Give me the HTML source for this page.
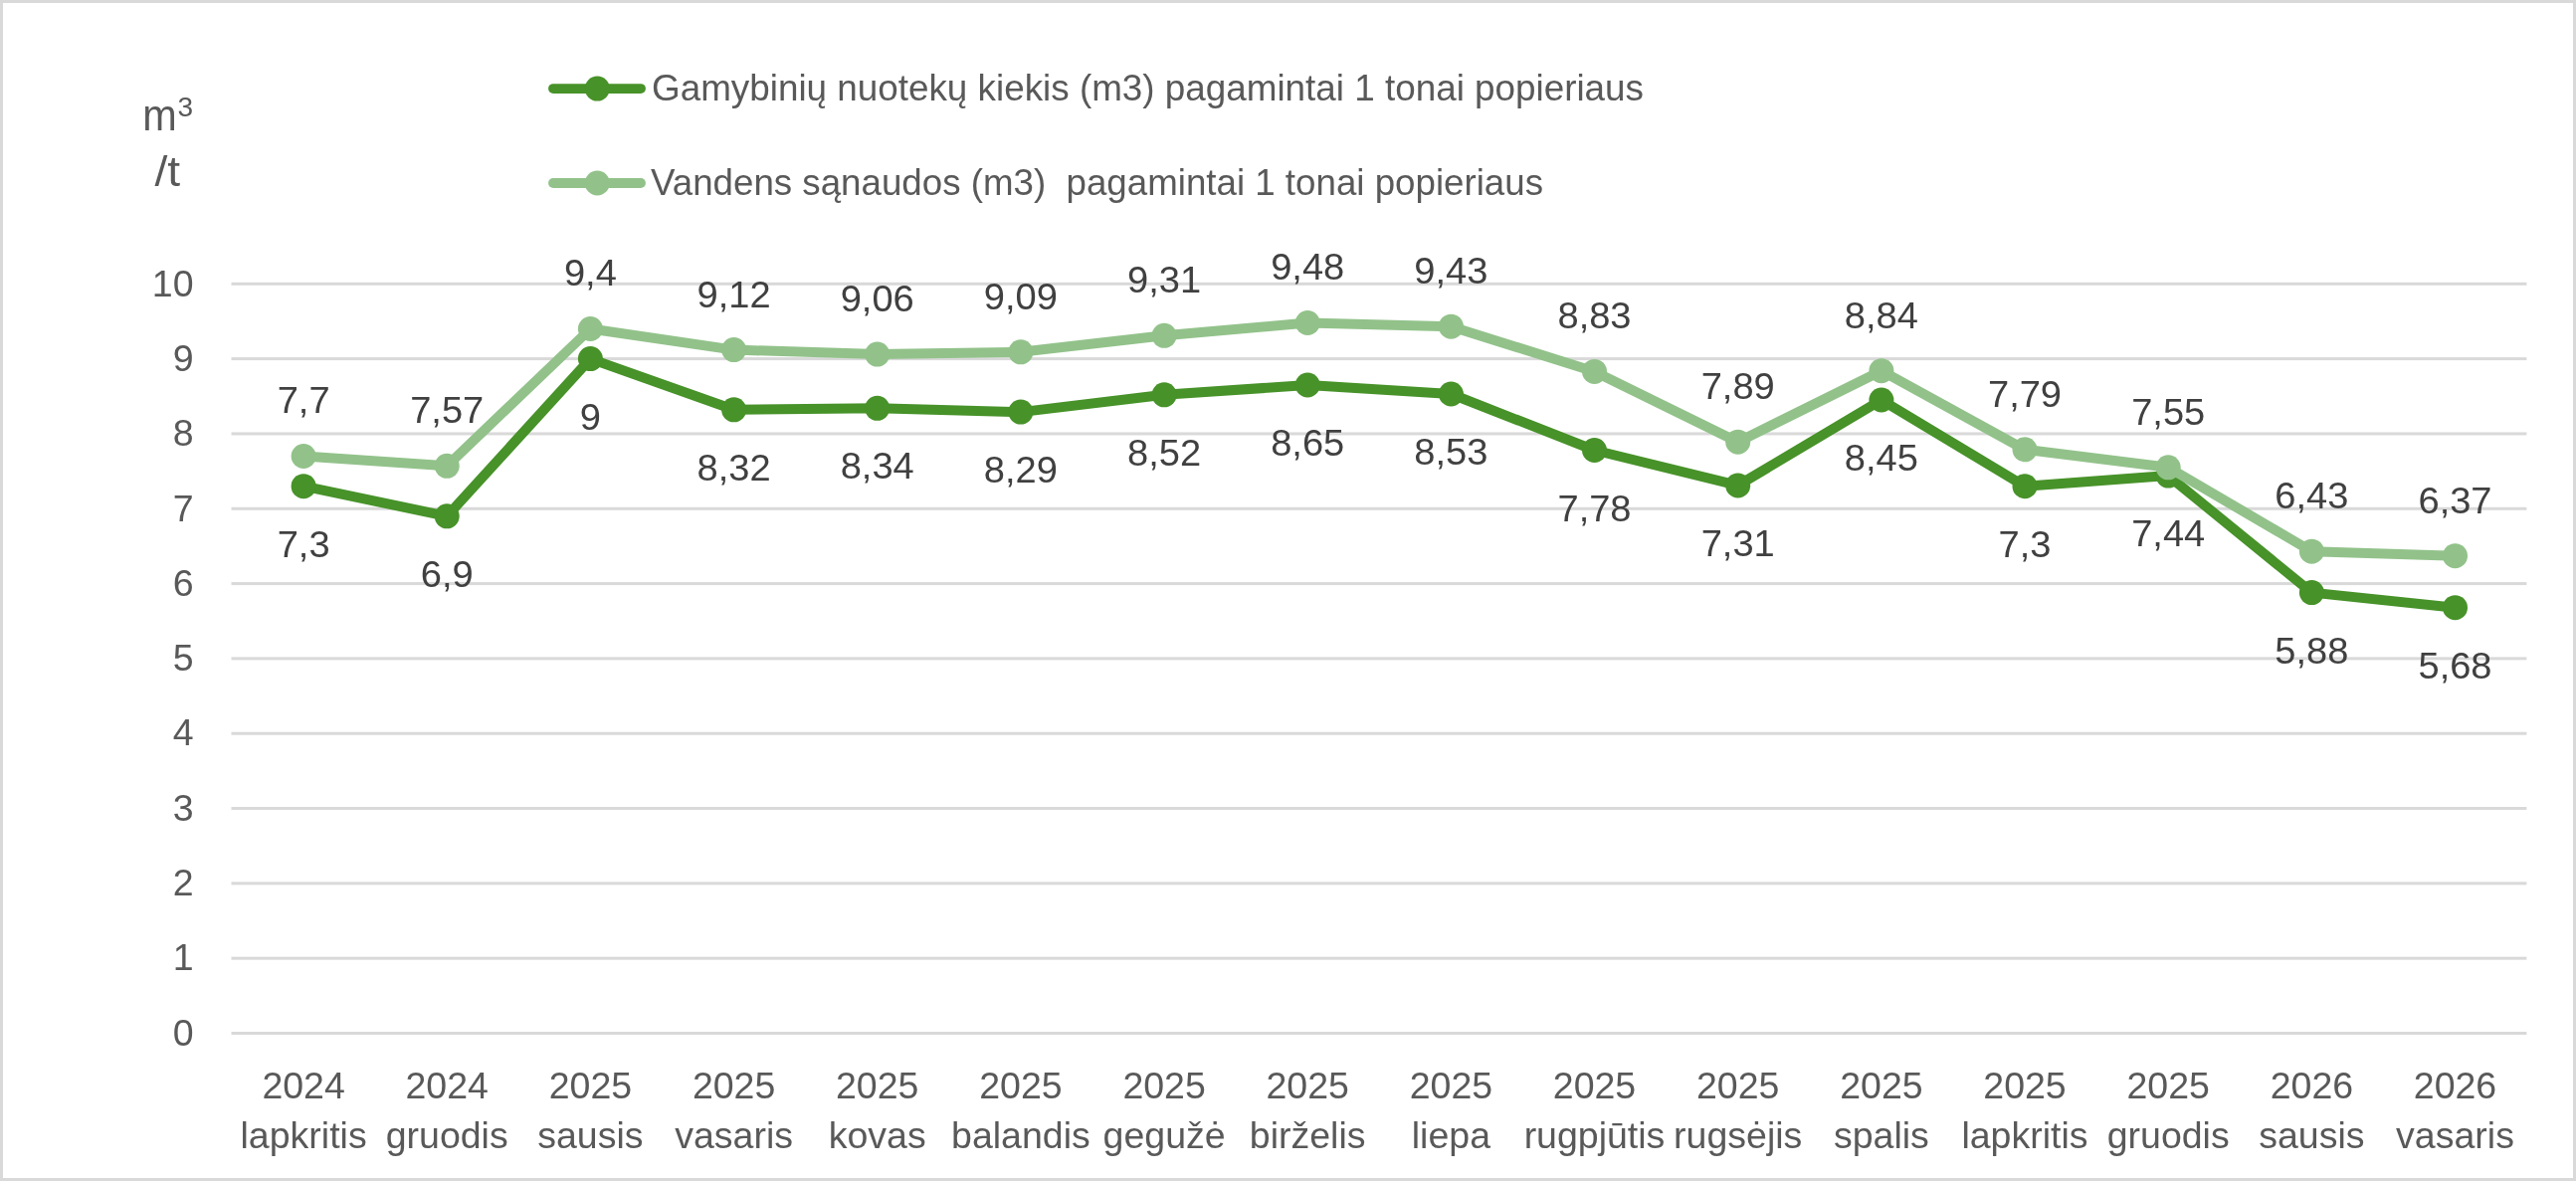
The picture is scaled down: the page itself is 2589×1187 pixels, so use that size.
<!DOCTYPE html>
<html><head><meta charset="utf-8"><style>
html,body{margin:0;padding:0;background:#fff;width:2589px;height:1187px;overflow:hidden}
svg{display:block;will-change:transform}
text{font-family:"Liberation Sans", sans-serif}
</style></head><body>
<svg width="2589" height="1187" viewBox="0 0 2589 1187"><rect x="0" y="0" width="2589" height="1187" fill="#D9D9D9"/><rect x="3" y="3" width="2583" height="1181" fill="#FFFFFF"/><rect x="232.5" y="1037.00" width="2306.9" height="3" fill="#D9D9D9"/><rect x="232.5" y="961.68" width="2306.9" height="3" fill="#D9D9D9"/><rect x="232.5" y="886.36" width="2306.9" height="3" fill="#D9D9D9"/><rect x="232.5" y="811.04" width="2306.9" height="3" fill="#D9D9D9"/><rect x="232.5" y="735.72" width="2306.9" height="3" fill="#D9D9D9"/><rect x="232.5" y="660.40" width="2306.9" height="3" fill="#D9D9D9"/><rect x="232.5" y="585.08" width="2306.9" height="3" fill="#D9D9D9"/><rect x="232.5" y="509.76" width="2306.9" height="3" fill="#D9D9D9"/><rect x="232.5" y="434.44" width="2306.9" height="3" fill="#D9D9D9"/><rect x="232.5" y="359.12" width="2306.9" height="3" fill="#D9D9D9"/><rect x="232.5" y="283.80" width="2306.9" height="3" fill="#D9D9D9"/><g font-family="Liberation Sans, sans-serif" font-size="37.5" fill="#595959" text-anchor="end"><text x="194.5" y="1050.7">0</text><text x="194.5" y="975.4">1</text><text x="194.5" y="900.1">2</text><text x="194.5" y="824.7">3</text><text x="194.5" y="749.4">4</text><text x="194.5" y="674.1">5</text><text x="194.5" y="598.8">6</text><text x="194.5" y="523.5">7</text><text x="194.5" y="448.1">8</text><text x="194.5" y="372.8">9</text><text x="194.5" y="297.5">10</text></g><g font-family="Liberation Sans, sans-serif" font-size="37.5" fill="#595959" text-anchor="middle"><text x="305.1" y="1103.7">2024</text><text x="305.1" y="1154.3">lapkritis</text><text x="449.2" y="1103.7">2024</text><text x="449.2" y="1154.3">gruodis</text><text x="593.4" y="1103.7">2025</text><text x="593.4" y="1154.3">sausis</text><text x="737.6" y="1103.7">2025</text><text x="737.6" y="1154.3">vasaris</text><text x="881.7" y="1103.7">2025</text><text x="881.7" y="1154.3">kovas</text><text x="1025.9" y="1103.7">2025</text><text x="1025.9" y="1154.3">balandis</text><text x="1170.1" y="1103.7">2025</text><text x="1170.1" y="1154.3">gegužė</text><text x="1314.2" y="1103.7">2025</text><text x="1314.2" y="1154.3">birželis</text><text x="1458.4" y="1103.7">2025</text><text x="1458.4" y="1154.3">liepa</text><text x="1602.5" y="1103.7">2025</text><text x="1602.5" y="1154.3">rugpjūtis</text><text x="1746.7" y="1103.7">2025</text><text x="1746.7" y="1154.3">rugsėjis</text><text x="1890.9" y="1103.7">2025</text><text x="1890.9" y="1154.3">spalis</text><text x="2035.0" y="1103.7">2025</text><text x="2035.0" y="1154.3">lapkritis</text><text x="2179.2" y="1103.7">2025</text><text x="2179.2" y="1154.3">gruodis</text><text x="2323.4" y="1103.7">2026</text><text x="2323.4" y="1154.3">sausis</text><text x="2467.5" y="1103.7">2026</text><text x="2467.5" y="1154.3">vasaris</text></g><polyline points="305.1,488.7 449.2,518.8 593.4,360.6 737.6,411.8 881.7,410.3 1025.9,414.1 1170.1,396.8 1314.2,387.0 1458.4,396.0 1602.5,452.5 1746.7,487.9 1890.9,402.0 2035.0,488.7 2179.2,478.1 2323.4,595.6 2467.5,610.7" fill="none" stroke="#479229" stroke-width="10" stroke-linejoin="round" stroke-linecap="round"/><circle cx="305.1" cy="488.7" r="12.5" fill="#479229"/><circle cx="449.2" cy="518.8" r="12.5" fill="#479229"/><circle cx="593.4" cy="360.6" r="12.5" fill="#479229"/><circle cx="737.6" cy="411.8" r="12.5" fill="#479229"/><circle cx="881.7" cy="410.3" r="12.5" fill="#479229"/><circle cx="1025.9" cy="414.1" r="12.5" fill="#479229"/><circle cx="1170.1" cy="396.8" r="12.5" fill="#479229"/><circle cx="1314.2" cy="387.0" r="12.5" fill="#479229"/><circle cx="1458.4" cy="396.0" r="12.5" fill="#479229"/><circle cx="1602.5" cy="452.5" r="12.5" fill="#479229"/><circle cx="1746.7" cy="487.9" r="12.5" fill="#479229"/><circle cx="1890.9" cy="402.0" r="12.5" fill="#479229"/><circle cx="2035.0" cy="488.7" r="12.5" fill="#479229"/><circle cx="2179.2" cy="478.1" r="12.5" fill="#479229"/><circle cx="2323.4" cy="595.6" r="12.5" fill="#479229"/><circle cx="2467.5" cy="610.7" r="12.5" fill="#479229"/><polyline points="305.1,458.5 449.2,468.3 593.4,330.5 737.6,351.6 881.7,356.1 1025.9,353.8 1170.1,337.3 1314.2,324.5 1458.4,328.2 1602.5,373.4 1746.7,444.2 1890.9,372.7 2035.0,451.8 2179.2,469.8 2323.4,554.2 2467.5,558.7" fill="none" stroke="#92C28A" stroke-width="10" stroke-linejoin="round" stroke-linecap="round"/><circle cx="305.1" cy="458.5" r="12.5" fill="#92C28A"/><circle cx="449.2" cy="468.3" r="12.5" fill="#92C28A"/><circle cx="593.4" cy="330.5" r="12.5" fill="#92C28A"/><circle cx="737.6" cy="351.6" r="12.5" fill="#92C28A"/><circle cx="881.7" cy="356.1" r="12.5" fill="#92C28A"/><circle cx="1025.9" cy="353.8" r="12.5" fill="#92C28A"/><circle cx="1170.1" cy="337.3" r="12.5" fill="#92C28A"/><circle cx="1314.2" cy="324.5" r="12.5" fill="#92C28A"/><circle cx="1458.4" cy="328.2" r="12.5" fill="#92C28A"/><circle cx="1602.5" cy="373.4" r="12.5" fill="#92C28A"/><circle cx="1746.7" cy="444.2" r="12.5" fill="#92C28A"/><circle cx="1890.9" cy="372.7" r="12.5" fill="#92C28A"/><circle cx="2035.0" cy="451.8" r="12.5" fill="#92C28A"/><circle cx="2179.2" cy="469.8" r="12.5" fill="#92C28A"/><circle cx="2323.4" cy="554.2" r="12.5" fill="#92C28A"/><circle cx="2467.5" cy="558.7" r="12.5" fill="#92C28A"/><g font-family="Liberation Sans, sans-serif" font-size="36.6" fill="#404040" text-anchor="middle"><text transform="translate(305.1,559.8) scale(1.04,1)">7,3</text><text transform="translate(449.2,589.9) scale(1.04,1)">6,9</text><text transform="translate(593.4,431.7) scale(1.04,1)">9</text><text transform="translate(737.6,482.9) scale(1.04,1)">8,32</text><text transform="translate(881.7,481.4) scale(1.04,1)">8,34</text><text transform="translate(1025.9,485.2) scale(1.04,1)">8,29</text><text transform="translate(1170.1,467.9) scale(1.04,1)">8,52</text><text transform="translate(1314.2,458.1) scale(1.04,1)">8,65</text><text transform="translate(1458.4,467.1) scale(1.04,1)">8,53</text><text transform="translate(1602.5,523.6) scale(1.04,1)">7,78</text><text transform="translate(1746.7,559.0) scale(1.04,1)">7,31</text><text transform="translate(1890.9,473.1) scale(1.04,1)">8,45</text><text transform="translate(2035.0,559.8) scale(1.04,1)">7,3</text><text transform="translate(2179.2,549.2) scale(1.04,1)">7,44</text><text transform="translate(2323.4,666.7) scale(1.04,1)">5,88</text><text transform="translate(2467.5,681.8) scale(1.04,1)">5,68</text><text transform="translate(305.1,415.4) scale(1.04,1)">7,7</text><text transform="translate(449.2,425.2) scale(1.04,1)">7,57</text><text transform="translate(593.4,287.4) scale(1.04,1)">9,4</text><text transform="translate(737.6,308.5) scale(1.04,1)">9,12</text><text transform="translate(881.7,313.0) scale(1.04,1)">9,06</text><text transform="translate(1025.9,310.7) scale(1.04,1)">9,09</text><text transform="translate(1170.1,294.2) scale(1.04,1)">9,31</text><text transform="translate(1314.2,281.4) scale(1.04,1)">9,48</text><text transform="translate(1458.4,285.1) scale(1.04,1)">9,43</text><text transform="translate(1602.5,330.3) scale(1.04,1)">8,83</text><text transform="translate(1746.7,401.1) scale(1.04,1)">7,89</text><text transform="translate(1890.9,329.6) scale(1.04,1)">8,84</text><text transform="translate(2035.0,408.7) scale(1.04,1)">7,79</text><text transform="translate(2179.2,426.7) scale(1.04,1)">7,55</text><text transform="translate(2323.4,511.1) scale(1.04,1)">6,43</text><text transform="translate(2467.5,515.6) scale(1.04,1)">6,37</text></g><line x1="556" y1="89.1" x2="644" y2="89.1" stroke="#479229" stroke-width="9.9" stroke-linecap="round"/><circle cx="600.3" cy="89.1" r="12.5" fill="#479229"/><line x1="556" y1="184.0" x2="644" y2="184.0" stroke="#92C28A" stroke-width="9.9" stroke-linecap="round"/><circle cx="600.3" cy="184.0" r="12.5" fill="#92C28A"/><g font-family="Liberation Sans, sans-serif" font-size="37.7" fill="#595959"><text x="655" y="101.3" textLength="997" lengthAdjust="spacingAndGlyphs">Gamybinių nuotekų kiekis (m3) pagamintai 1 tonai popieriaus</text><text x="654" y="195.9" textLength="897" lengthAdjust="spacingAndGlyphs" xml:space="preserve">Vandens sąnaudos (m3)  pagamintai 1 tonai popieriaus</text></g><g font-family="Liberation Sans, sans-serif" fill="#595959"><text transform="translate(143.3,130.8) scale(0.93,1)" font-size="44.5">m</text><text x="178.5" y="117" font-size="28">3</text><text transform="translate(155.5,186.8) scale(1.1,1)" font-size="42">/t</text></g></svg>
</body></html>
